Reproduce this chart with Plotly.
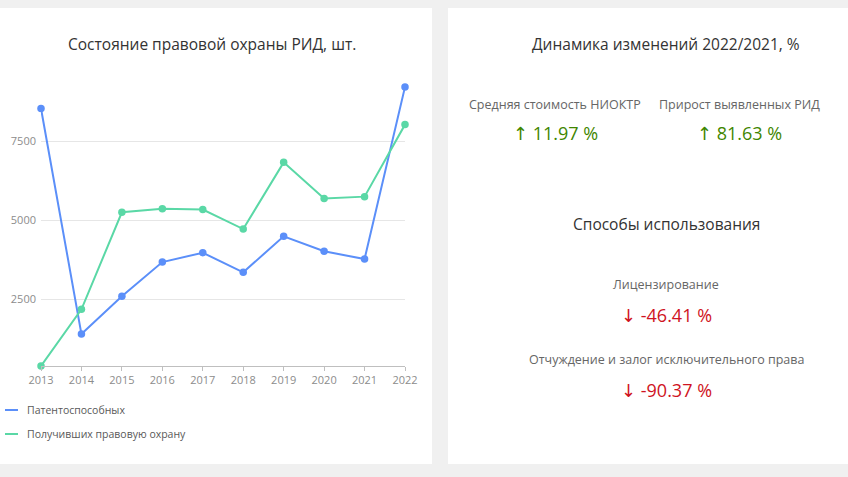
import plotly.graph_objects as go

# данные графика
years = ['2013', '2014', '2015', '2016', '2017', '2018', '2019', '2020', '2021', '2022']
patentosposobnye = [8540, 1400, 2600, 3680, 3975, 3355, 4495, 4020, 3775, 9220]
poluchivshie = [390, 2185, 5255, 5370, 5340, 4725, 6835, 5690, 5750, 8030]
y_ticks = [2500, 5000, 7500]
series_names = ['Патентоспособных', 'Получивших правовую охрану']

# показатели справа
dinamika_names = ['Средняя стоимость НИОКТР', 'Прирост выявленных РИД']
dinamika_vals = [11.97, 81.63]
sposoby_names = ['Лицензирование', 'Отчуждение и залог исключительного права']
sposoby_vals = [-46.41, -90.37]

W, H = 848, 477
BLUE = '#5B8FF9'
GREEN = '#5AD8A6'
FONT = 'Open Sans, Noto Sans, sans-serif'
ARROW = '<span style="font-family:DejaVu Sans">%s</span> '


def px_x(x):
    return x / W


def px_y(y):
    return 1 - y / H


fig = go.Figure()

for vals, name, color in zip([patentosposobnye, poluchivshie], series_names, [BLUE, GREEN]):
    fig.add_trace(go.Scatter(x=years, y=vals, name=name, mode='lines+markers',
                             line=dict(color=color, width=2),
                             marker=dict(size=7.5, color=color),
                             cliponaxis=False, showlegend=False))

ymin = min(min(patentosposobnye), min(poluchivshie))
ymax = max(max(patentosposobnye), max(poluchivshie))

# карточки
shapes = [
    dict(type='rect', xref='paper', yref='paper', x0=0, x1=px_x(432),
         y0=px_y(464), y1=px_y(8), fillcolor='white', line=dict(width=0), layer='below'),
    dict(type='rect', xref='paper', yref='paper', x0=px_x(448), x1=1,
         y0=px_y(464), y1=px_y(8), fillcolor='white', line=dict(width=0), layer='below'),
]

annotations = [
    dict(text='Состояние правовой охраны РИД, шт.', x=px_x(212), y=px_y(44),
         font=dict(size=15.5, color='#333333')),
    dict(text='Динамика изменений 2022/2021, %', x=px_x(666), y=px_y(44),
         font=dict(size=15.5, color='#333333')),
    dict(text='Способы использования', x=px_x(666), y=px_y(224),
         font=dict(size=15.5, color='#333333')),
]

# легенда внизу слева
for i, (name, color) in enumerate(zip(series_names, [BLUE, GREEN])):
    ly = 410 + 24 * i
    shapes.append(dict(type='line', xref='paper', yref='paper', x0=px_x(5), x1=px_x(18),
                       y0=px_y(ly), y1=px_y(ly), line=dict(color=color, width=2)))
    annotations.append(dict(text=name, x=px_x(25), y=px_y(ly), xanchor='left',
                            font=dict(size=10.5, color='#595959')))

for name, val, cx in zip(dinamika_names, dinamika_vals, [555, 739]):
    annotations.append(dict(text=name, x=px_x(cx), y=px_y(104),
                            font=dict(size=12.5, color='#666666')))
    annotations.append(dict(text=ARROW % '↑' + '%.2f %%' % val, x=px_x(cx), y=px_y(133),
                            font=dict(size=18, color='#3f8600')))

for name, val, ty in zip(sposoby_names, sposoby_vals, [284, 359]):
    annotations.append(dict(text=name, x=px_x(666), y=px_y(ty),
                            font=dict(size=12.5, color='#666666')))
    annotations.append(dict(text=ARROW % '↓' + '%.2f %%' % val, x=px_x(666), y=px_y(ty + 31),
                            font=dict(size=18, color='#cf1322')))

for a in annotations:
    a.update(xref='paper', yref='paper', showarrow=False, yanchor='middle')
    a.setdefault('xanchor', 'center')

fig.update_layout(
    width=W, height=H,
    margin=dict(l=0, r=0, t=0, b=0),
    paper_bgcolor='#f0f0f0',
    plot_bgcolor='white',
    font=dict(family=FONT, color='#8c8c8c'),
    showlegend=False,
    shapes=shapes,
    annotations=annotations,
    xaxis=dict(domain=[px_x(41), px_x(405)], type='category', range=[0, len(years) - 1],
               automargin=False, showgrid=False, showline=True, linecolor='#bfbfbf',
               linewidth=1, ticks='outside', ticklen=4, tickcolor='#bfbfbf',
               tickfont=dict(size=11, color='#8c8c8c'), zeroline=False),
    yaxis=dict(domain=[px_y(366), px_y(87)], range=[ymin, ymax], automargin=False,
               tickvals=y_ticks, showgrid=True, gridcolor='#e6e6e6',
               showline=False, zeroline=False, ticks='', ticklabelstandoff=4,
               tickfont=dict(size=11, color='#8c8c8c')),
)

# убрать отступ body, чтобы график стоял в углу окна
fig.write_html('out.html', config={'displayModeBar': False},
               post_script="document.body.style.margin='0';")
